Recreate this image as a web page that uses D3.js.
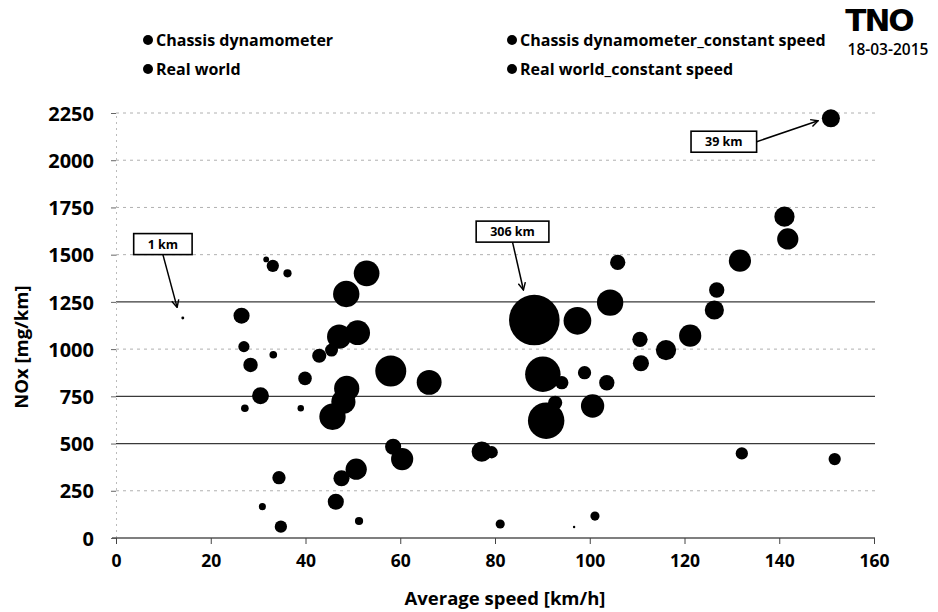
<!DOCTYPE html>
<html>
<head>
<meta charset="utf-8">
<script src="https://cdn.jsdelivr.net/npm/d3@7"></script>
<style>
  html, body { margin: 0; padding: 0; background: #fff; }
  svg { display: block; }
  text { font-family: "Open Sans", Lato, sans-serif; fill: #000; }
</style>
</head>
<body>
<svg id="chart" width="938" height="612"></svg>
<script>
// Each point: [average speed km/h, NOx mg/km, trip distance km]
const chassisDyno = [
  [14.1, 1165, 1], [26.5, 1177, 31], [27.0, 1013, 15], [28.4, 916, 25],
  [30.5, 753, 34], [27.2, 687, 7], [39.0, 687, 5], [39.9, 845, 22],
  [33.1, 1441, 18], [36.2, 1401, 8], [34.4, 319, 21], [34.8, 60, 18],
  [42.9, 965, 24], [45.5, 995, 20], [58.5, 483, 31], [60.4, 418, 59],
  [50.7, 364, 54], [47.6, 316, 31], [46.4, 192, 31]
];
const chassisDynoConst = [
  [31.7, 1475, 4], [33.2, 970, 7], [30.9, 166, 6], [51.3, 90, 8],
  [81.1, 74, 10], [101.1, 116, 10], [96.7, 58, 0.5], [132.1, 448, 18],
  [151.7, 418, 18]
];
const realWorld = [
  [52.9, 1401, 79], [48.6, 1292, 83], [51.0, 1087, 74], [47.1, 1066, 70],
  [58.0, 884, 115], [66.1, 824, 74], [48.7, 792, 76], [48.0, 721, 70],
  [45.7, 642, 83], [88.3, 1154, 306], [97.4, 1150, 92], [104.3, 1246, 83],
  [90.1, 867, 150], [90.8, 621, 159], [100.6, 699, 65], [77.2, 457, 49],
  [150.9, 2222, 39]
];
const realWorldConst = [
  [105.9, 1459, 28], [110.6, 1052, 28], [116.1, 995, 49], [110.8, 925, 31],
  [94.1, 822, 21], [98.9, 875, 21], [103.6, 822, 28], [92.7, 716, 24],
  [79.3, 454, 18], [141.1, 1701, 49], [141.8, 1583, 54], [131.7, 1468, 59],
  [126.8, 1313, 28], [126.3, 1207, 44], [121.2, 1071, 59]
];

const seriesNames = [
  "Chassis dynamometer", "Chassis dynamometer_constant speed",
  "Real world", "Real world_constant speed"
];
const seriesData = [chassisDyno, chassisDynoConst, realWorld, realWorldConst];

const xTicks = [0, 20, 40, 60, 80, 100, 120, 140, 160];
const yTicks = [0, 250, 500, 750, 1000, 1250, 1500, 1750, 2000, 2250];

// Callouts: label text, label anchor (speed, NOx), arrow tip (speed, NOx)
const callouts = [
  { text: "1 km",   at: [9.9, 1556],   tip: [12.9, 1221] },
  { text: "306 km", at: [83.7, 1622],  tip: [86.0, 1313] },
  { text: "39 km",  at: [128.3, 2098], tip: [148.2, 2209] }
];

const svg = d3.select("#chart");
const margin = { left: 116, right: 64, top: 113, bottom: 74 };
const W = 938, H = 612;

const x = d3.scaleLinear().domain([0, 160]).range([margin.left, W - margin.right]);
const y = d3.scaleLinear().domain([0, 2250]).range([H - margin.bottom, margin.top]);
const r = d3.scaleSqrt().domain([0, 306]).range([0, 25.3]);

// Horizontal gridlines (some printed darker than others)
const darkRows = new Set([500, 750, 1250]);
svg.append("g").selectAll("line")
  .data(yTicks.filter(v => v > 0))
  .join("line")
  .attr("x1", x(0)).attr("x2", x(160) + 1)
  .attr("y1", d => y(d)).attr("y2", d => y(d))
  .attr("stroke", d => darkRows.has(d) ? "#3a3a3a" : "#b0b0b0")
  .attr("stroke-width", d => darkRows.has(d) ? 1.2 : 1)
  .attr("stroke-dasharray", d => darkRows.has(d) ? null : "3,4");

// Y axis (faint) with outward ticks
const yAxis = d3.axisLeft(y).tickValues(yTicks).tickSize(5).tickFormat(d3.format("d"));
const gy = svg.append("g").attr("transform", `translate(${x(0)},0)`).call(yAxis);
gy.select(".domain").attr("stroke", "#bbb").attr("stroke-dasharray", "2,4");
gy.selectAll(".tick line").attr("stroke", "#666");
gy.selectAll(".tick text")
  .attr("x", -22).attr("dy", "0.36em")
  .style("font-size", "20px").style("font-weight", 700)
  .style("font-family", "'Open Sans', sans-serif").attr("fill", "#000");

// X axis
const xAxis = d3.axisBottom(x).tickValues(xTicks).tickSize(6).tickSizeOuter(0);
const gx = svg.append("g").attr("transform", `translate(0,${y(0)})`).call(xAxis);
gx.select(".domain").attr("stroke", "#555").attr("stroke-width", 1.3)
  .attr("d", `M${x(0) - 4},0H${x(160) + 1}`);
gx.selectAll(".tick line").attr("stroke", "#444");
gx.selectAll(".tick text")
  .attr("y", 17)
  .style("font-size", "17.5px").style("font-weight", 700)
  .style("font-family", "'Open Sans', sans-serif").attr("fill", "#000");

// Axis titles
svg.append("text")
  .attr("x", 505).attr("y", 605)
  .attr("text-anchor", "middle")
  .style("font-size", "18.5px").style("font-weight", 700)
  .text("Average speed [km/h]");
svg.append("text")
  .attr("transform", `translate(28,${y(1000) - 2}) rotate(-90)`)
  .attr("text-anchor", "middle")
  .style("font-size", "18.5px").style("font-weight", 700)
  .text("NOx [mg/km]");

// Bubbles, biggest first
const points = seriesData.flatMap((arr, i) => arr.map(p => ({ s: i, sx: p[0], ny: p[1], km: p[2] })))
  .sort((a, b) => b.km - a.km);
svg.append("g").selectAll("circle")
  .data(points)
  .join("circle")
  .attr("cx", d => x(d.sx))
  .attr("cy", d => y(d.ny))
  .attr("r", d => Math.max(1.2, r(d.km)))
  .attr("fill", "#000");

// Callout arrows and boxes
const defs = svg.append("defs");
defs.append("marker")
  .attr("id", "arrowHead")
  .attr("viewBox", "0 0 10 10")
  .attr("refX", 9).attr("refY", 5)
  .attr("markerWidth", 9).attr("markerHeight", 9)
  .attr("markerUnits", "userSpaceOnUse")
  .attr("orient", "auto")
  .append("path")
  .attr("d", "M1,1 L9,5 L1,9")
  .attr("fill", "none").attr("stroke", "#000").attr("stroke-width", 1.6);

const cg = svg.append("g");
callouts.forEach(c => {
  const cx = x(c.at[0]), cy = y(c.at[1]);
  const t = cg.append("text")
    .attr("x", cx).attr("y", cy).attr("dy", "0.36em")
    .attr("text-anchor", "middle")
    .style("font-size", "12.5px").style("font-weight", 700)
    .text(c.text);
  const bb = t.node().getBBox();
  const bw = bb.width + 28, bh = 21;
  // arrow starts at the box edge that faces the tip
  const tx = x(c.tip[0]), ty = y(c.tip[1]);
  let sx, sy;
  if (Math.abs(tx - cx) > bw / 2) { sx = tx > cx ? cx + bw / 2 : cx - bw / 2; sy = cy; }
  else { sx = cx; sy = ty > cy ? cy + bh / 2 : cy - bh / 2; }
  cg.insert("line", "text")
    .attr("x1", sx).attr("y1", sy).attr("x2", tx).attr("y2", ty)
    .attr("stroke", "#000").attr("stroke-width", 1.5)
    .attr("marker-end", "url(#arrowHead)");
  cg.insert("rect", "text")
    .attr("x", cx - bw / 2).attr("y", cy - bh / 2)
    .attr("width", bw).attr("height", bh)
    .attr("fill", "#fff").attr("stroke", "#000").attr("stroke-width", 1.6);
});

// Legend, two columns
const legendPos = [[148, 40], [512, 40], [148, 69], [512, 69]];
const lg = svg.append("g");
seriesNames.forEach((name, i) => {
  const [lx, ly] = legendPos[i];
  lg.append("circle").attr("cx", lx).attr("cy", ly).attr("r", 5).attr("fill", "#000");
  lg.append("text").attr("x", lx + 8).attr("y", ly).attr("dy", "0.36em")
    .style("font-size", "16px").style("font-weight", 700)
    .text(name);
});

// Logo and date
svg.append("text")
  .attr("x", 879).attr("y", 31).attr("text-anchor", "middle")
  .style("font-family", "'DejaVu Sans', sans-serif")
  .style("font-size", "31px").style("font-weight", 900)
  .style("letter-spacing", "-2px")
  .text("TNO");
svg.append("text")
  .attr("x", 888).attr("y", 55).attr("text-anchor", "middle")
  .style("font-size", "15.5px").style("font-weight", 600)
  .text("18-03-2015");
</script>
</body>
</html>
